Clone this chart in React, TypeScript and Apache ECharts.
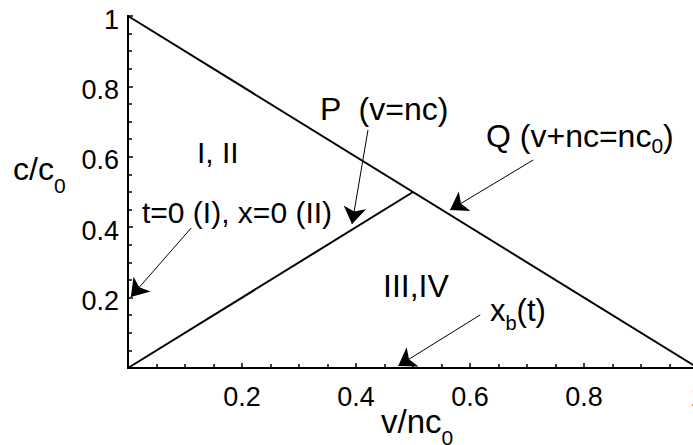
import React, { useEffect, useRef } from "react";
import * as echarts from "echarts";

// ---- data (in axis units) ----
const xTicks = [0, 0.2, 0.4, 0.6, 0.8, 1];
const yTicks = [0, 0.2, 0.4, 0.6, 0.8, 1];
// Q line: v + nc = nc0
const lineQ = [
  [0, 1],
  [1, 0],
];
// P line: v = nc
const lineP = [
  [0, 0],
  [0.5, 0.5],
];
// arrows: [from, to(tip)]
const arrowP = [
  [0.421, 0.676],
  [0.393, 0.409],
];
const arrowQ = [
  [0.711, 0.591],
  [0.565, 0.449],
];
const arrowT0 = [
  [0.111, 0.398],
  [0.005, 0.202],
];
const arrowXb = [
  [0.618, 0.151],
  [0.474, 0.006],
];

const FONT = "Liberation Sans, Arial, Helvetica, sans-serif";

type Part = [string, "m" | "s"];

function richText(
  left: number,
  baseline: number,
  parts: Part[],
  F: number,
  f: number,
  drop: number
) {
  const L2 = Math.max(F, 0.8465 * F + drop + 0.1535 * f);
  const text = parts.map(([t, k]) => `{${k}|${t}}`).join("");
  return {
    type: "text",
    x: left,
    y: baseline - 0.8465 * F,
    silent: true,
    style: {
      text,
      align: "left",
      verticalAlign: "top",
      fill: "#000",
      rich: {
        m: {
          fontSize: F,
          lineHeight: F,
          fontFamily: FONT,
          color: "#000",
          verticalAlign: "top",
        },
        s: {
          fontSize: f,
          lineHeight: L2,
          fontFamily: FONT,
          color: "#000",
          verticalAlign: "bottom",
        },
      },
    },
  };
}

export default function App() {
  const ref = useRef<HTMLDivElement>(null);
  useEffect(() => {
    if (!ref.current) return;
    const chart = echarts.init(ref.current, null, { renderer: "svg" });
    const axisCommon = {
      type: "value",
      min: 0,
      max: 1,
      interval: 0.2,
      axisLine: { show: true, lineStyle: { color: "#000", width: 2 } },
      axisTick: { show: true, inside: true, length: 5, lineStyle: { color: "#000", width: 1.5 } },
      minorTick: { show: true, splitNumber: 4, length: 4, lineStyle: { color: "#000", width: 1.5 } },
      splitLine: { show: false },
      minorSplitLine: { show: false },
    };
    const lbl = (v: number) => (v === 0 ? "" : String(v));
    const arrowSeries = [arrowP, arrowQ, arrowT0, arrowXb].map((a) => ({ coords: a }));
    chart.setOption({
      animation: false,
      backgroundColor: "#fff",
      grid: {
        left: 128,
        top: 16,
        width: 570,
        height: 352,
        show: false,
        containLabel: false,
        outerBoundsMode: "none",
      },
      xAxis: [
        {
          ...axisCommon,
          position: "bottom",
          axisLabel: {
            formatter: lbl,
            fontSize: 27,
            fontFamily: FONT,
            color: "#000",
            margin: 15,
            customValues: xTicks,
          },
        },
        {
          type: "value",
          min: 0,
          max: 1,
          position: "top",
          axisLine: { show: true, lineStyle: { color: "#000", width: 2 } },
          axisTick: { show: false },
          axisLabel: { show: false },
          splitLine: { show: false },
        },
      ],
      yAxis: [
        {
          ...axisCommon,
          position: "left",
          axisLabel: {
            formatter: (v: number) => (v === 0 ? "" : `{a|${v}}`),
            fontSize: 27,
            fontFamily: FONT,
            color: "#000",
            margin: 9,
            customValues: yTicks,
            rich: {
              a: {
                fontSize: 27,
                fontFamily: FONT,
                color: "#000",
                padding: [7, 0, 0, 0],
              },
            },
          },
        },
        {
          type: "value",
          min: 0,
          max: 1,
          position: "right",
          axisLine: { show: true, lineStyle: { color: "#000", width: 2 } },
          axisTick: { show: false },
          axisLabel: { show: false },
          splitLine: { show: false },
        },
      ],
      series: [
        {
          type: "line",
          data: lineQ,
          symbol: "none",
          lineStyle: { color: "#000", width: 2 },
          silent: true,
        },
        {
          type: "line",
          data: lineP,
          symbol: "none",
          lineStyle: { color: "#000", width: 2 },
          silent: true,
        },
        {
          type: "lines",
          coordinateSystem: "cartesian2d",
          symbol: ["none", "arrow"],
          symbolSize: [12, 17],
          symbolOffset: [0, [0, 8]],
          lineStyle: { color: "#000", width: 1, opacity: 1 },
          data: arrowSeries,
          silent: true,
        },
      ],
      graphic: [
        richText(13, 180, [["c/c", "m"], ["0", "s"]], 32, 21, 13),
        richText(381, 433, [["v/nc", "m"], ["0", "s"]], 33, 21, 12),
        richText(320, 120, [["P  (v=nc)", "m"]], 32, 20, 0),
        richText(486, 147, [["Q (v+nc=nc", "m"], ["0", "s"], [")", "m"]], 32, 21, 6),
        richText(197, 163, [["I, II", "m"]], 30, 20, 0),
        richText(142, 223, [["t=0 (I), x=0 (II)", "m"]], 30, 20, 0),
        richText(383, 297, [["III,IV", "m"]], 32, 20, 0),
        richText(490, 321, [["x", "m"], ["b", "s"], ["(t)", "m"]], 31, 20, 9),
      ],
    });
    return () => chart.dispose();
  }, []);
  return (
    <div
      ref={ref}
      style={{ position: "fixed", left: 0, top: 0, width: 693, height: 445, background: "#fff" }}
    />
  );
}
